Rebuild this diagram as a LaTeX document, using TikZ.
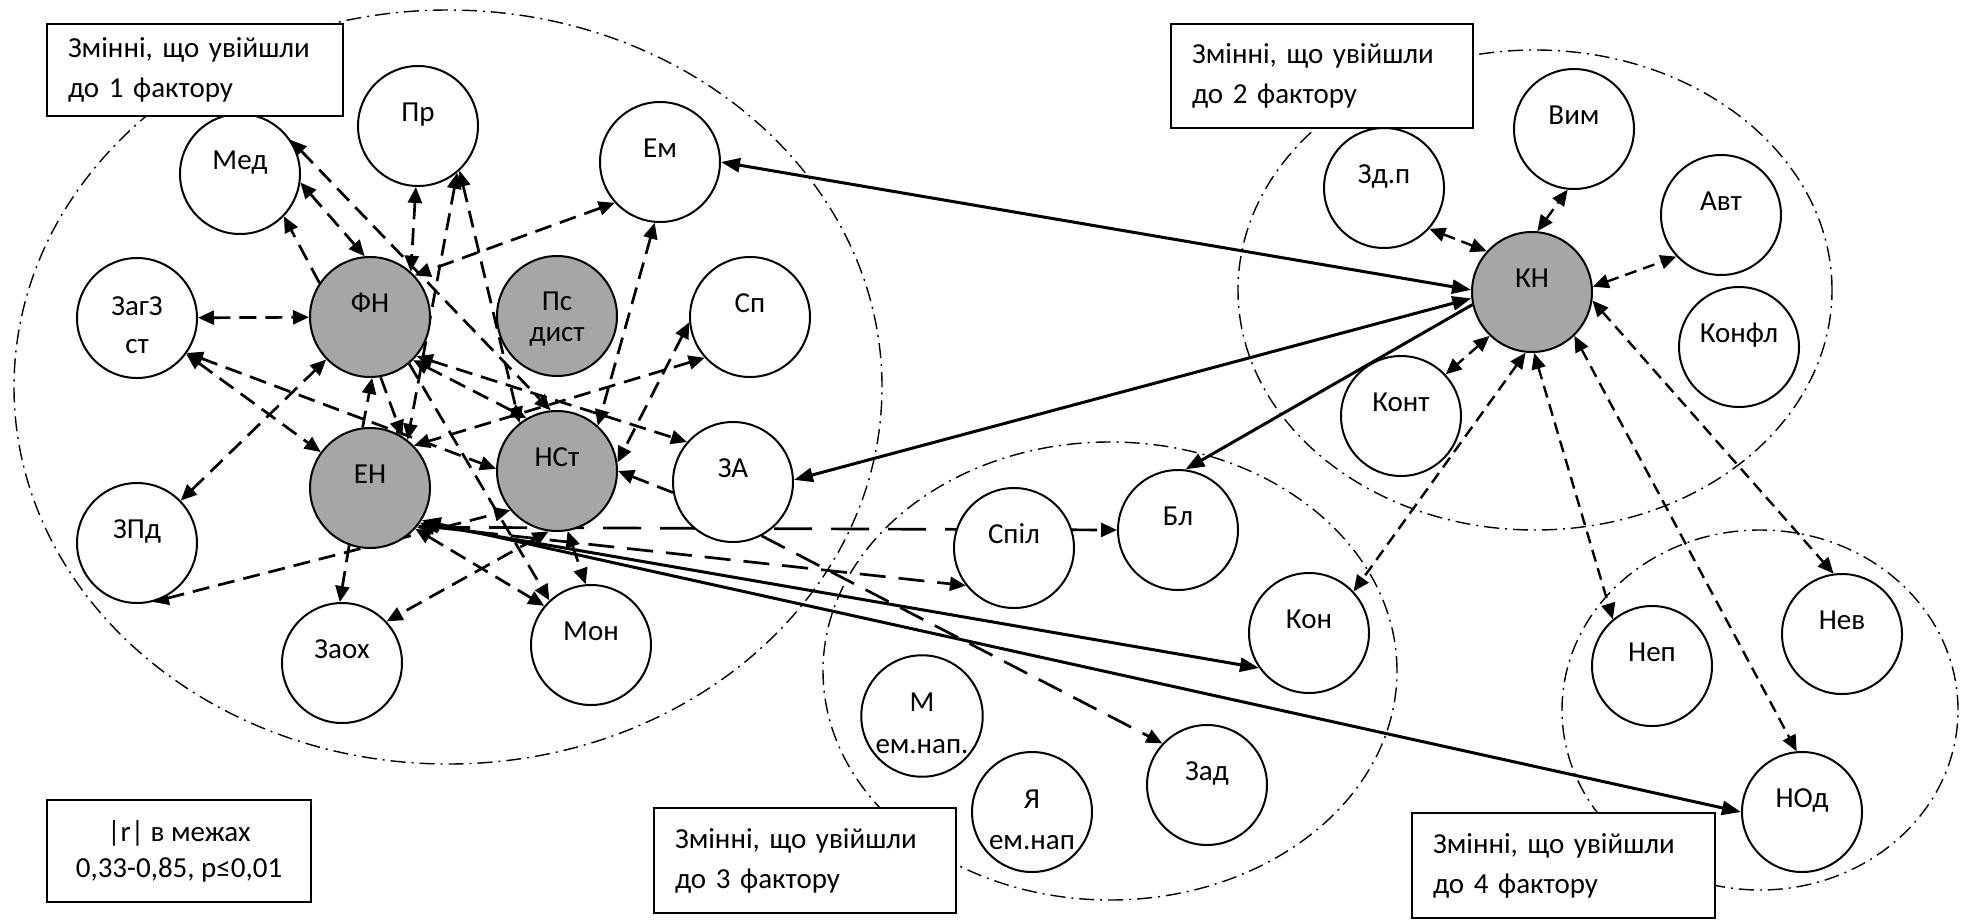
\documentclass[tikz,border=0pt]{standalone}
\usepackage{fontspec}
\setmainfont{Carlito}
\usetikzlibrary{arrows.meta}

\pgfdeclarelayer{bg}
\pgfsetlayers{bg,main}
\definecolor{nodegray}{RGB}{166,166,166}

\begin{document}
\begin{tikzpicture}[x=1pt, y=-1pt,
	>={Triangle[length=16pt,width=14pt]},
	var/.style={circle, draw, line width=2pt, fill=white, minimum size=120pt, inner sep=0pt, align=center,
		font=\fontsize{29}{40}\selectfont, text height=20pt, text depth=30pt},
	core/.style={var, fill=nodegray},
	twoline/.style={text height=72pt, text depth=2pt},
	factor/.style={draw, line width=2pt, fill=white, anchor=north west, align=left, inner xsep=21pt,
		font=\fontsize{29}{40}\selectfont},
	group/.style={line width=1.4pt, dash pattern=on 15pt off 6pt on 2pt off 6pt},
	link/.style={line width=2.7pt, dash pattern=on 17pt off 9pt},
	midlink/.style={line width=2.7pt, dash pattern=on 26pt off 13pt},
	longlink/.style={line width=2.7pt, dash pattern=on 38pt off 19pt},
	kinlink/.style={line width=2.4pt, dash pattern=on 12pt off 7pt},
	bond/.style={line width=3pt, >={Triangle[length=19pt,width=14pt]}}]
	\useasboundingbox (0,0) rectangle (1966,919);

	% 1 factor
	\node[var] (med) at (240,174) {Мед};
	\node[var] (pr) at (418,126) {Пр};
	\node[var] (em) at (660,162) {Ем};
	\node[var, twoline, font=\fontsize{29}{38}\selectfont] (zagz) at (137,318) {ЗагЗ\\ст};
	\node[core] (fn) at (370,317) {ФН};
	\node[core, font=\fontsize{29}{31}\selectfont, text height=52pt, text depth=2pt] (ps) at (557,316) {Пс\\дист};
	\node[var] (sp) at (750,317) {Сп};
	\node[var] (zpd) at (137,543) {ЗПд};
	\node[core] (en) at (370,488) {ЕН};
	\node[core] (nst) at (557,471) {НСт};
	\node[var] (za) at (733,482) {ЗА};
	\node[var] (zaoh) at (342,663) {Заох};
	\node[var] (mon) at (591,645) {Мон};

	% 2 factor
	\node[var] (zdp) at (1384,188) {Зд.п};
	\node[var] (vim) at (1574,129) {Вим};
	\node[core] (kn) at (1532,292) {КН};
	\node[var] (avt) at (1721,215) {Авт};
	\node[var] (konfl) at (1739,347) {Конфл};
	\node[var] (kont) at (1401,416) {Конт};

	% 3 factor
	\node[var] (spil) at (1014,548) {Спіл};
	\node[var] (bl) at (1178,530) {Бл};
	\node[var] (kon) at (1309,633) {Кон};
	\node[var, twoline, font=\fontsize{29}{42}\selectfont, text height=76pt] (mem) at (922,716) {М\\ем.нап.};
	\node[var, twoline, font=\fontsize{29}{41}\selectfont, text height=76pt] (ya) at (1032,812) {Я\\ем.нап};
	\node[var] (zad) at (1207,785) {Зад};

	% 4 factor
	\node[var] (nep) at (1652,666) {Неп};
	\node[var] (nev) at (1842,634) {Нев};
	\node[var] (nod) at (1802,812) {НОд};

	\node[factor, text width=254pt, minimum height=92pt] (f-1) at (46,23) {Змінні, що увійшли\\до 1 фактору};
	\node[factor, text width=260pt, minimum height=104pt] (f-2) at (1170,23) {Змінні, що увійшли\\до 2 фактору};
	\node[factor, text width=260pt, minimum height=105pt] (f-3) at (653,807) {Змінні, що увійшли\\до 3 фактору};
	\node[factor, text width=261pt, minimum height=105pt] (f-4) at (1411,812) {Змінні, що увійшли\\до 4 фактору};
	\node[factor, align=center, inner xsep=0pt, minimum width=264pt, minimum height=102pt,
		font=\fontsize{29}{36}\selectfont] (legend) at (46,799) {|r| в межах\\0,33-0,85, p≤0,01};

	\begin{pgfonlayer}{bg}
	\draw[group] (448,387) ellipse [x radius=434pt, y radius=377pt];
	\draw[group] (1535,290) ellipse [x radius=297pt, y radius=240pt];
	\draw[group] (1110,671) ellipse [x radius=287pt, y radius=229pt];
	\draw[group] (1760,710) ellipse [x radius=198pt, y radius=180pt];

	\draw[link,<->] (zagz) -- (fn);
	\draw[link,<->] (zagz) -- (en);
	\draw[link,<->] (zagz.-35) -- (nst.178);
	\draw[link,<->] (zpd) -- (fn);
	\draw[link,<->] (zpd.-75) -- (nst.220);
	\draw[link,<->] (med.-8) -- (fn.95);
	\draw[link,->] (fn.146) -- (med.-44);
	\draw[link,<->] (med.34) -- (nst.96);
	\draw[link,<->] (pr.-92) -- (fn.48);
	\draw[link,<->] (pr.-50) -- (en.52);
	\draw[link,<->] (pr.-47) -- (nst.128);
	\draw[link,<->] (em.222) -- (fn.43);
	\draw[link,<->] (em.265) -- (nst.48);
	\draw[link,<->] (sp.222) -- (en.44);
	\draw[link,<->] (sp.185) -- (nst.8);
	\draw[link,<->] (fn.-40) -- (za.139);
	\draw[link,->] (za.190) -- (nst.0);
	\draw[link,->] (en.97) -- (fn.272);
	\draw[link,->] (fn.-80) -- (en.58);
	\draw[link,<->] (fn.-45) -- (nst.120);
	\draw[link,->] (fn.-50) -- (mon.133);
	\draw[link,<->] (en.-42) -- (mon.140);
	\draw[link,<->] (nst.-80) -- (mon.95);
	\draw[link,<->] (nst.262) -- (zaoh.43);
	\draw[link,->] (en.250) -- (zaoh.92);
	\draw[longlink,<->] (en.-40) -- (bl.180);
	\draw[midlink,<->] (en.-38) -- (spil.218);
	\draw[midlink,->] (za.-62) -- (zad.137);
	\draw[bond,<->] (en.-35) -- (kon.215);
	\draw[bond,<->] (en.-32) -- (nod.180);

	\draw[bond,<->] (kn.178) -- (em.0);
	\draw[bond,<->] (kn.186) -- (za.2);
	\draw[bond,->] (kn.192) -- (bl.83);
	\draw[kinlink,<->] (zdp.-42) -- (kn.138);
	\draw[kinlink,<->] (kn.85) -- (vim.-96);
	\draw[kinlink,<->] (kn.5) -- (avt.223);
	\draw[kinlink,<->] (kn.226) -- (kont.43);
	\draw[kinlink,<->] (kn.264) -- (kon.43);
	\draw[kinlink,<->] (kn.272) -- (nep.130);
	\draw[kinlink,<->] (kn.-46) -- (nod.95);
	\draw[kinlink,<->] (kn.-8) -- (nev.98);
	\end{pgfonlayer}
\end{tikzpicture}
\end{document}
